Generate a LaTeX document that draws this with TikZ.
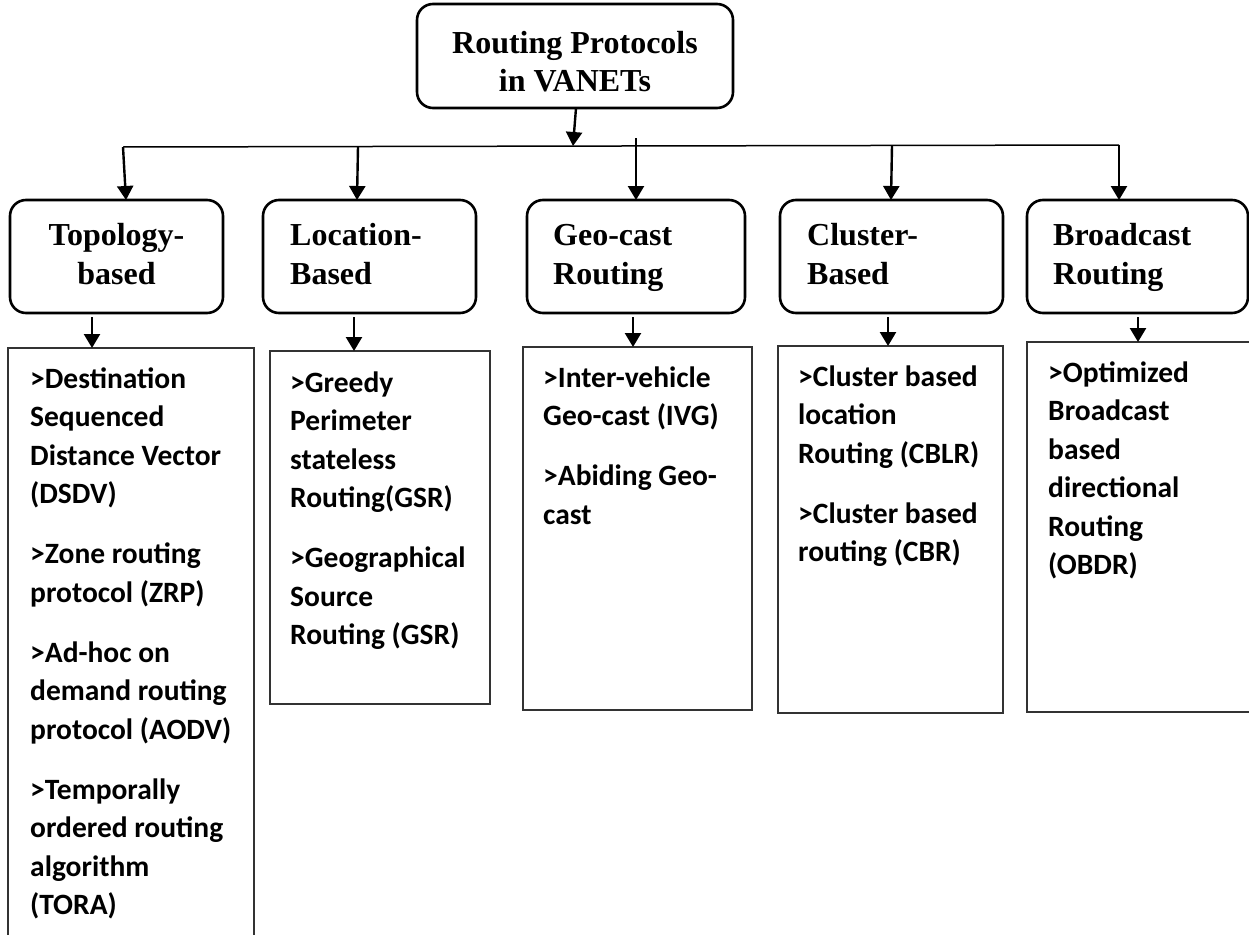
\documentclass[tikz,border=0pt]{standalone}
\usepackage{fontspec}
\newfontfamily\calib{Carlito}
\newfontfamily\tnr{Liberation Serif}
\usetikzlibrary{arrows.meta}
\begin{document}
\begin{tikzpicture}[x=1pt,y=-1pt,
  rbox/.style={draw=black, line width=2.6pt, rounded corners=16pt, anchor=north west, inner sep=0pt, outer sep=0pt},
  lbox/.style={draw=black!80, line width=1.5pt, anchor=north west, inner sep=0pt, outer sep=0pt},
  ltext/.style={anchor=base west, inner sep=0pt, font={\calib\bfseries\fontsize{29.5}{38.5}\selectfont}},
  htext/.style={anchor=base west, inner sep=0pt, font={\tnr\bfseries\fontsize{32}{39.5}\selectfont}},
  arr/.style={line width=2.4pt, -{Triangle[length=14pt,width=16pt]}},
  hline/.style={line width=1.5pt},
]
\useasboundingbox (0,0) rectangle (1249,934);
\clip (0,0) rectangle (1249,934);

% top box
\node[rbox, minimum width=316pt, minimum height=104pt] (top) at (417,4) {};
\node[htext, anchor=base, font={\tnr\bfseries\fontsize{32}{38}\selectfont}] (toptx) at (575,53)
  {\parbox[t]{320pt}{\centering Routing Protocols\\ in VANETs}};

% second level boxes
\node[rbox, minimum width=213pt, minimum height=113pt] (tb) at (10,200) {};
\node[rbox, minimum width=213pt, minimum height=113pt] (lb) at (263,200) {};
\node[rbox, minimum width=218pt, minimum height=113pt] (gb) at (527,200) {};
\node[rbox, minimum width=223pt, minimum height=113pt] (cb) at (780,200) {};
\node[rbox, minimum width=221pt, minimum height=113pt] (bb) at (1027,200) {};

\node[htext, anchor=base] (tbtx) at (116.5,245) {\parbox[t]{200pt}{\centering Topology-\\ based}};
\node[htext] (lbtx) at (290,245) {\parbox[t]{200pt}{\raggedright Location-\\ Based}};
\node[htext] (gbtx) at (553,245) {\parbox[t]{200pt}{\raggedright Geo-cast\\ Routing}};
\node[htext] (cbtx) at (807,245) {\parbox[t]{200pt}{\raggedright Cluster-\\ Based}};
\node[htext] (bbtx) at (1053,245) {\parbox[t]{200pt}{\raggedright Broadcast\\ Routing}};

% list boxes
\node[lbox, minimum width=246pt, minimum height=620pt] (tl) at (8,348) {};
\node[lbox, minimum width=220pt, minimum height=353pt] (ll) at (270,351) {};
\node[lbox, minimum width=229pt, minimum height=363pt] (gl) at (523,347) {};
\node[lbox, minimum width=225pt, minimum height=367pt] (cl) at (778,346) {};
\node[lbox, minimum width=240pt, minimum height=370pt] (bl) at (1027,342) {};

\node[ltext] (tltx) at (30,388) {\parbox[t]{240pt}{\raggedright
>Destination\\ Sequenced\\ Distance Vector\\ (DSDV)\\[21.5pt]
>Zone routing\\ protocol (ZRP)\\[21.5pt]
>Ad-hoc on\\ demand routing\\ protocol (AODV)\\[21.5pt]
>Temporally\\ ordered routing\\ algorithm\\ (TORA)}};
\node[ltext] (lltx) at (290,392) {\parbox[t]{240pt}{\raggedright
>Greedy\\ Perimeter\\ stateless\\ Routing(GSR)\\[21.5pt]
>Geographical\\ Source\\ Routing (GSR)}};
\node[ltext] (gltx) at (543,387) {\parbox[t]{240pt}{\raggedright
>Inter-vehicle\\ Geo-cast (IVG)\\[21.5pt]
>Abiding Geo-\\ cast}};
\node[ltext] (cltx) at (798,386) {\parbox[t]{240pt}{\raggedright
>Cluster based\\ location\\ Routing (CBLR)\\[21.5pt]
>Cluster based\\ routing (CBR)}};
\node[ltext] (bltx) at (1048,382) {\parbox[t]{240pt}{\raggedright
>Optimized\\ Broadcast\\ based\\ directional\\ Routing\\ (OBDR)}};

% bus line and connectors
\coordinate (hT) at (123,147);
\coordinate (hL) at (358,146.5);
\coordinate (hc) at (573,146);
\coordinate (hG) at (636,138);
\coordinate (hC) at (892,145.5);
\coordinate (hB) at (1119,145);

\draw[hline] (hT) -- (hB);
\draw[arr] ([xshift=1pt]top.south) -- (hc);

\draw[arr] (hT) -- ([xshift=9.5pt]tb.north);
\draw[arr] (hL) -- ([xshift=-12.5pt]lb.north);
\draw[arr] (hG) -- (gb.north);
\draw[arr] (hC) -- ([xshift=-0.5pt]cb.north);
\draw[arr] (hB) -- ([xshift=-18.5pt]bb.north);

\draw[arr] ([xshift=-24.5pt,yshift=-4pt]tb.south) -- ([xshift=-39pt]tl.north);
\draw[arr] ([xshift=-15.5pt,yshift=-4pt]lb.south) -- ([xshift=-26pt]ll.north);
\draw[arr] ([xshift=-3pt,yshift=-4pt]gb.south) -- ([xshift=-4.5pt]gl.north);
\draw[arr] ([xshift=-3.5pt,yshift=-4pt]cb.south) -- ([xshift=-2.5pt]cl.north);
\draw[arr] ([xshift=0.5pt,yshift=-4pt]bb.south) -- ([xshift=-9pt]bl.north);
\end{tikzpicture}
\end{document}
